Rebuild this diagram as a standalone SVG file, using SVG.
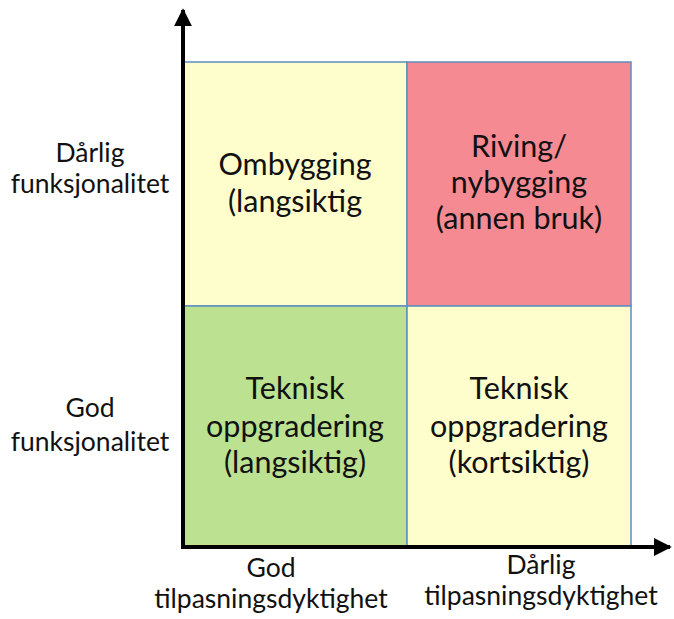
<svg xmlns="http://www.w3.org/2000/svg" width="674" height="619" viewBox="0 0 674 619">
  <style>
    .cell { stroke: #5E8FBC; stroke-width: 1.5; }
    .yellow { fill: #FEFECC; }
    .red { fill: #F58A93; }
    .green { fill: #BBE191; }
    .q { font-family: Lato, "Open Sans", "Liberation Sans", sans-serif; font-size: 30.5px; fill: #111; text-anchor: middle; }
    .lbl { font-family: Lato, "Open Sans", "Liberation Sans", sans-serif; font-size: 26.5px; fill: #111; text-anchor: middle; }
    .axis { stroke: #000; stroke-width: 4; fill: none; }
  </style>
  <defs>
    <marker id="arrow" viewBox="0 0 10 10" refX="9" refY="5" markerWidth="4.5" markerHeight="4.5" markerUnits="strokeWidth" orient="auto">
      <path d="M0,0 L10,5 L0,10 Z" fill="#000"/>
    </marker>
  </defs>
  <rect width="674" height="619" fill="#fff"/>

  <g id="cell-ombygging">
    <rect class="cell yellow" x="184" y="62" width="223" height="244"/>
    <text class="q" x="295" y="175">Ombygging</text>
    <text class="q" x="295" y="212">(langsiktig</text>
  </g>
  <g id="cell-riving">
    <rect class="cell red" x="407" y="62" width="224" height="244"/>
    <text class="q" x="519" y="157">Riving/</text>
    <text class="q" x="519" y="193">nybygging</text>
    <text class="q" x="519" y="229">(annen bruk)</text>
  </g>
  <g id="cell-teknisk-lang">
    <rect class="cell green" x="184" y="306" width="223" height="241"/>
    <text class="q" x="295" y="399">Teknisk</text>
    <text class="q" x="295" y="437">oppgradering</text>
    <text class="q" x="295" y="473">(langsiktig)</text>
  </g>
  <g id="cell-teknisk-kort">
    <rect class="cell yellow" x="407" y="306" width="224" height="241"/>
    <text class="q" x="519" y="399">Teknisk</text>
    <text class="q" x="519" y="437">oppgradering</text>
    <text class="q" x="519" y="473">(kortsiktig)</text>
  </g>

  <g id="connectors">
    <line class="axis" x1="183" y1="549" x2="183" y2="10" marker-end="url(#arrow)"/>
    <line class="axis" x1="181" y1="547" x2="670" y2="547" marker-end="url(#arrow)"/>
  </g>

  <g id="label-y-top">
    <text class="lbl" x="90" y="162">Dårlig</text>
    <text class="lbl" x="90" y="193">funksjonalitet</text>
  </g>
  <g id="label-y-bottom">
    <text class="lbl" x="90" y="417">God</text>
    <text class="lbl" x="90" y="451">funksjonalitet</text>
  </g>
  <g id="label-x-left">
    <text class="lbl" x="271" y="577">God</text>
    <text class="lbl" x="271" y="608">tilpasningsdyktighet</text>
  </g>
  <g id="label-x-right">
    <text class="lbl" x="541" y="574">Dårlig</text>
    <text class="lbl" x="541" y="605">tilpasningsdyktighet</text>
  </g>
</svg>
